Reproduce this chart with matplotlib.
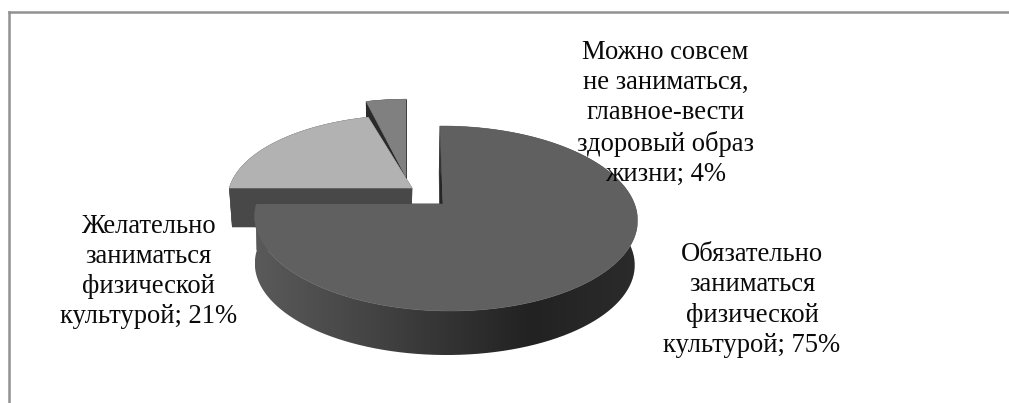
import numpy as np
import matplotlib
matplotlib.use("Agg")
import matplotlib.pyplot as plt
from matplotlib.path import Path
from matplotlib.patches import PathPatch
from matplotlib.colors import LinearSegmentedColormap

categories = ["Обязательно\nзаниматься\nфизической\nкультурой",
              "Желательно\nзаниматься\nфизической\nкультурой",
              "Можно совсем\nне заниматься,\nглавное-вести\nздоровый образ\nжизни"]
values = [75, 21, 4]

W, H = 1009, 403
fig = plt.figure(figsize=(W / 100, H / 100), dpi=100, facecolor="white")
ax = fig.add_axes([9 / W, 0, 1 - 9 / W, 1 - 12 / H])
ax.set_xlim(9, W)
ax.set_ylim(H, 12)
ax.set_xticks([])
ax.set_yticks([])
for s in ("right", "bottom"):
    ax.spines[s].set_visible(False)
for s in ("top", "left"):
    ax.spines[s].set_color("#919191")
    ax.spines[s].set_linewidth(1.8)

tops = [dict(x0=443, y0=204, B=189, A=90.2, C=-3.5, k=.157, m=-.013),
        dict(x0=412, y0=188, B=185, A=84.4, C=-4.8, k=.157, m=-.013),
        dict(x0=406, y0=177, B=185, A=90, C=0, k=.157, m=-.013)]
bots = [dict(x0=440, y0=250, B=187.5, A=88.5, C=-1, k=.157, m=-.024),
        dict(x0=411, y0=227, B=181, A=84, C=-4.8, k=.157, m=-.013),
        dict(x0=406, y0=217, B=183, A=90, C=0, k=.157, m=-.013)]
top_colors = ["#606060", "#b2b2b2", "#808080"]
side_colors = ["#2c2c2c", "#484848", "#2a2a2a"]


def proj(deg, P):
    t = np.radians(deg)
    u, v = np.sin(t), np.cos(t)
    w = 1 + P["k"] * v + P["m"] * u
    return P["x0"] + (P["B"] * u + P["C"] * v) / w, P["y0"] - P["A"] * v / w


def arc(a, b, P):
    th = np.linspace(a, b, 240)
    return np.column_stack(proj(th, P))


def apex(P):
    return np.array([[P["x0"], P["y0"]]])


def poly(pts, color, z):
    ax.fill(pts[:, 0], pts[:, 1], color=color, lw=0.4, zorder=z)


cmap = LinearSegmentedColormap.from_list(
    "side", [(0, "#5a5a5a"), (0.3, "#444444"), (0.72, "#222222"), (1, "#2b2b2b")])

ends = np.cumsum(values) / np.sum(values) * 360
starts = np.r_[0, ends[:-1]]

# drawn back to front: smallest slice first
for i in (2, 1, 0):
    a, b = starts[i], ends[i]
    z = 10 - i * 3
    T, L = tops[i], bots[i]
    # cut faces
    for ang in (a, b):
        face = np.vstack([apex(T), arc(ang, ang, T)[:1], arc(ang, ang, L)[:1], apex(L)])
        poly(face, side_colors[i] if i else "#262626", z)
    # outer side
    side = np.vstack([arc(a, b, T), arc(a, b, L)[::-1]])
    if i == 0:
        patch = PathPatch(Path(side), transform=ax.transData, fc="none", ec="none")
        ax.add_patch(patch)
        im = ax.imshow(np.linspace(0, 1, 256)[None, :], cmap=cmap, aspect="auto",
                       extent=[255, 637, 360, 120], zorder=z + 0.5)
        im.set_clip_path(patch)
    else:
        poly(side, side_colors[i], z)
    # top face
    poly(np.vstack([apex(T), arc(a, b, T)]), top_colors[i], z + 1)

ax.set_xlim(9, W)
ax.set_ylim(H, 12)

label_pos = [(752, 300), (148.5, 271.5), (665.5, 113.5)]
for c, val, (x, y) in zip(categories, values, label_pos):
    ax.text(x, y, f"{c}; {val}%", ha="center", va="center", multialignment="center",
            family="Liberation Serif", fontsize=19.2, linespacing=1.27,
            color="#0a0a0a", zorder=30)

fig.savefig("out.png", dpi=100)
